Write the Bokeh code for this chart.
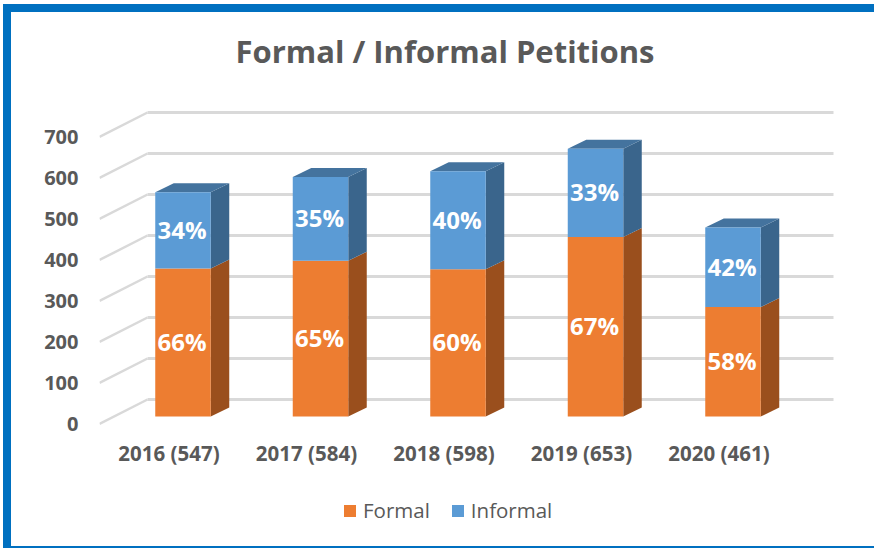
from bokeh.plotting import figure
from bokeh.embed import file_html
from bokeh.resources import INLINE
from bokeh.models import (Range1d, FixedTicker, Legend, LegendItem, ColumnDataSource, Label)
from bokeh.core.properties import value

title_text = "Formal / Informal Petitions"
categories = ["2016 (547)", "2017 (584)", "2018 (598)", "2019 (653)", "2020 (461)"]
formal = [361, 380, 359, 438, 267]
informal = [186, 204, 239, 215, 194]
formal_pct = ["66%", "65%", "60%", "67%", "58%"]
informal_pct = ["34%", "35%", "40%", "33%", "42%"]
y_ticks = [0, 100, 200, 300, 400, 500, 600, 700]

FONT = "Open Sans"
GREY = "#595959"
PXX = 137.5   # px per category
PXY = 0.41    # px per value unit
W, H = 874, 548
IN_L, IN_T, IN_B = 11, 12, 546   # inner edge of the blue frame
F_L, F_T, F_B = 99, 12, 540

p = figure(width=W - IN_L, height=IN_B - IN_T, output_backend="svg", toolbar_location=None,
           x_range=Range1d((F_L - 168.5) / PXX, (W - 168.5) / PXX),
           y_range=Range1d((423.5 - F_B) / PXY, (423.5 - F_T) / PXY),
           min_border_left=F_L - IN_L, min_border_right=8, min_border_top=F_T - IN_T,
           min_border_bottom=IN_B - F_B + 10, outline_line_color=None,
           background_fill_color="white", border_fill_color="white")
p.styles = {"position": "absolute", "left": "3px", "top": "4px", "box-sizing": "content-box",
            "border-left": "8px solid #0070C0", "border-top": "8px solid #0070C0",
            "border-bottom": "2px solid #0070C0"}
p.grid.visible = False

p.add_layout(Label(x=(444.5 - 168.5) / PXX, y=(423.5 - 50) / PXY, text=title_text,
                   text_align="center", text_baseline="middle", text_font=FONT,
                   text_font_size="31px", text_font_style="bold", text_color=GREY))

for ax in (p.xaxis[0], p.yaxis[0]):
    ax.axis_line_color = None
    ax.major_tick_line_color = None
    ax.minor_tick_line_color = None
    ax.major_tick_in = 0
    ax.major_tick_out = 0
    ax.major_label_text_font = FONT
    ax.major_label_text_font_style = "bold"
    ax.major_label_text_color = GREY
p.yaxis[0].ticker = FixedTicker(ticks=y_ticks)
p.yaxis[0].major_label_text_font_size = "20px"
p.yaxis[0].major_label_standoff = 21
p.xaxis[0].ticker = FixedTicker(ticks=list(range(len(categories))))
p.xaxis[0].major_label_overrides = dict(enumerate(categories))
p.xaxis[0].major_label_text_font_size = "20.5px"
p.xaxis[0].major_label_standoff = 6
p.xaxis[0].fixed_location = (423.5 - 432) / PXY

# walls
wall_dx, wall_dy = 48 / PXX, 24.5 / PXY
x0 = (F_L - 168.5) / PXX
x1 = (833 - 168.5) / PXX
p.multi_line([[x0, x0 + wall_dx] for _ in y_ticks], [[v, v + wall_dy] for v in y_ticks],
             line_color="#d9d9d9", line_width=2.5)
p.segment([x0 + wall_dx] * len(y_ticks), [v + wall_dy for v in y_ticks],
          [x1] * len(y_ticks), [v + wall_dy for v in y_ticks],
          line_color="#d9d9d9", line_width=3)

# 3D bars
shift = 14 / PXX
bw = 55.5 / PXX
base = 7.5 / PXY
dx, dy = 18.5 / PXX, 9 / PXY
xs = [i + shift for i in range(len(categories))]
tops = [f + n for f, n in zip(formal, informal)]


def side(i, lo, hi):
    r = xs[i] + bw / 2
    return [r, r + dx, r + dx, r], [base + lo, base + lo + dy, base + hi + dy, base + hi]


def cap(i, v):
    l, r = xs[i] - bw / 2, xs[i] + bw / 2
    return [l, l + dx, r + dx, r], [base + v, base + v + dy, base + v + dy, base + v]


n = range(len(categories))
p.patches([side(i, 0, formal[i])[0] for i in n], [side(i, 0, formal[i])[1] for i in n],
          fill_color="#9A4F1D", line_color=None)
p.patches([side(i, formal[i], tops[i])[0] for i in n], [side(i, formal[i], tops[i])[1] for i in n],
          fill_color="#3A658C", line_color=None)
p.patches([cap(i, tops[i])[0] for i in n], [cap(i, tops[i])[1] for i in n],
          fill_color="#44739E", line_color=None)

src = ColumnDataSource(dict(
    x=xs, b0=[base] * len(xs), f=[base + v for v in formal], t=[base + v for v in tops],
    fm=[base + v / 2 for v in formal],
    im=[base + f + v / 2 for f, v in zip(formal, informal)],
    fp=formal_pct, ip=informal_pct))
r1 = p.vbar(x="x", bottom="b0", top="f", width=bw, fill_color="#ED7D31", line_color=None, source=src)
r2 = p.vbar(x="x", bottom="f", top="t", width=bw, fill_color="#5B9BD5", line_color=None, source=src)
for ycol, tcol in (("fm", "fp"), ("im", "ip")):
    p.text(x="x", y=ycol, text=tcol, source=src, text_align="center", text_baseline="middle",
           x_offset=-1, y_offset=-1,
           text_color="white", text_font=value(FONT), text_font_style="bold", text_font_size="24px")

legend = Legend(items=[LegendItem(label="Formal", renderers=[r1]), LegendItem(label="Informal", renderers=[r2])],
                orientation="horizontal", location=(243, 16), background_fill_alpha=0,
                border_line_color=None, glyph_width=15, glyph_height=15, spacing=20,
                label_standoff=6, label_text_font=FONT, label_text_color=GREY,
                label_text_font_size="20.5px", padding=4, margin=0)
p.add_layout(legend, "center")

open("out.html", "w").write(file_html(p, INLINE))
